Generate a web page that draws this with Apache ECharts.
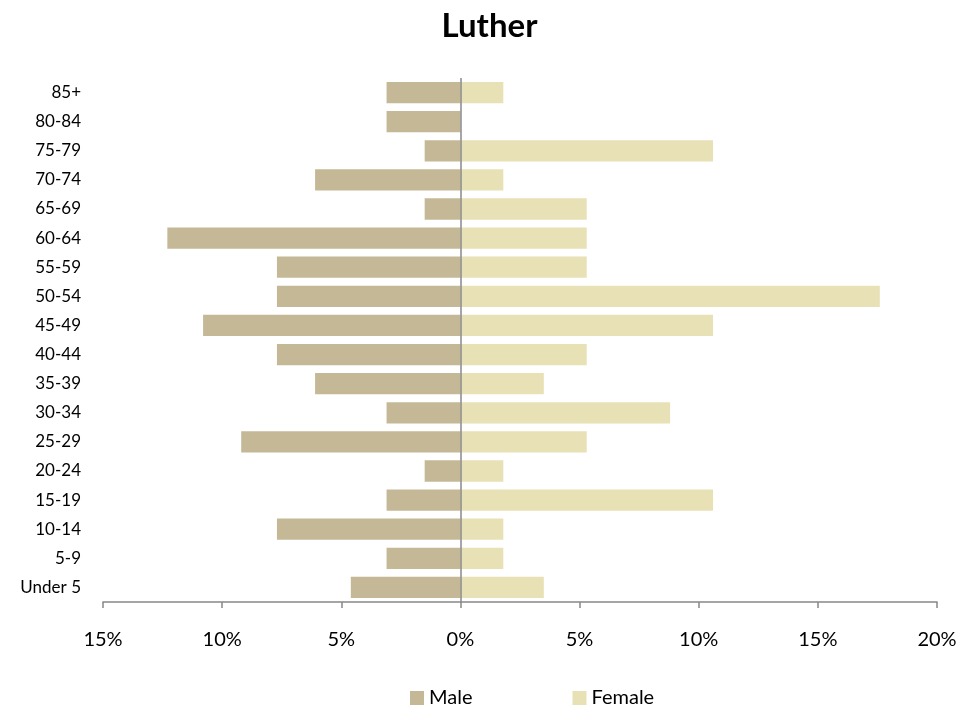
<!DOCTYPE html>
<html><head><meta charset="utf-8">
<script src="https://cdn.jsdelivr.net/npm/echarts@6/dist/echarts.min.js"></script>
<style>html,body{margin:0;padding:0;background:#fff}#c{width:979px;height:713px}</style>
</head><body><div id="c"></div>
<script>
var categories = ['Under 5','5-9','10-14','15-19','20-24','25-29','30-34','35-39','40-44','45-49','50-54','55-59','60-64','65-69','70-74','75-79','80-84','85+'];
var male = [4.6,3.1,7.7,3.1,1.5,9.2,3.1,6.1,7.7,10.8,7.7,7.7,12.3,1.5,6.1,1.5,3.1,3.1];
var female = [3.5,1.8,1.8,10.6,1.8,5.3,8.8,3.5,5.3,10.6,17.6,5.3,5.3,5.3,1.8,10.6,0,1.8];
var xTicks = [-15,-10,-5,0,5,10,15,20];
var font = 'Lato, "Open Sans", sans-serif';
var chart = echarts.init(document.getElementById('c'));
chart.setOption({
  animation:false,
  title:{text:'Luther',left:'center',top:5,textStyle:{fontFamily:font,fontWeight:'bold',fontSize:33,color:'#000'}},
  grid:{left:103,right:42,top:78,bottom:111,containLabel:false},
  legend:{top:683,left:405,itemWidth:14,itemHeight:14,itemGap:100,icon:'rect',
    textStyle:{fontFamily:font,fontSize:20,color:'#000'},data:['Male','Female']},
  xAxis:{type:'value',min:xTicks[0],max:xTicks[xTicks.length-1],interval:5,
    axisLine:{show:true,lineStyle:{color:'#888',width:1.5}},
    axisTick:{show:true,length:6,lineStyle:{color:'#888',width:1.5}},
    splitLine:{show:false},
    axisLabel:{margin:28,fontFamily:font,fontSize:20,color:'#000',formatter:function(v){return Math.abs(v)+'%';}}},
  yAxis:{type:'category',data:categories,axisLine:{show:false},axisTick:{show:false},
    axisLabel:{margin:22,fontFamily:font,fontSize:17,color:'#000'}},
  series:[
    {name:'Male',type:'bar',stack:'s',barCategoryGap:'27%',data:male.map(function(v){return -v;}),
     itemStyle:{color:'#C4B896'},
     markLine:{silent:true,symbol:'none',label:{show:false},lineStyle:{color:'#888',width:1.5,type:'solid'},data:[{xAxis:0}]}},
    {name:'Female',type:'bar',stack:'s',barCategoryGap:'27%',data:female,itemStyle:{color:'#E8E1B6'}}
  ]
});
</script></body></html>
